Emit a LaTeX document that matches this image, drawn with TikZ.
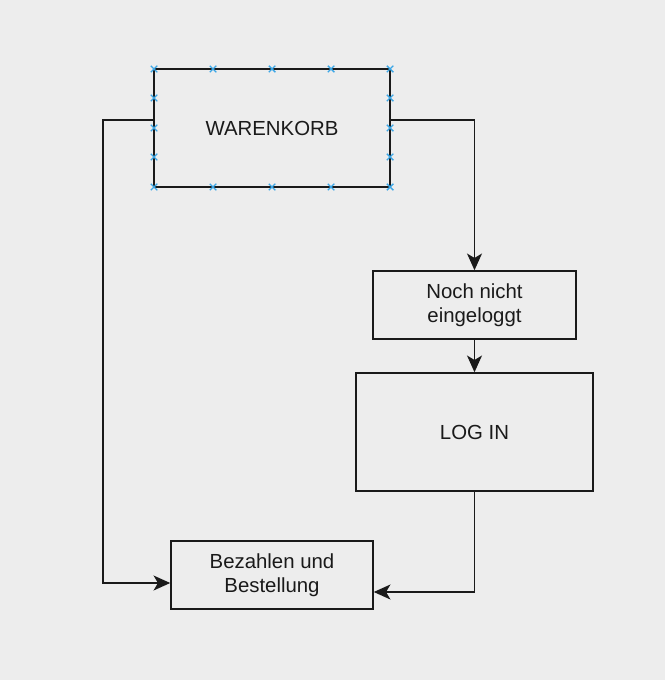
\documentclass[tikz,border=0pt]{standalone}
\usepackage{fontspec}
\setmainfont{Liberation Sans}
\usepackage{xcolor}
\usetikzlibrary{
    arrows.meta,
    positioning,
    calc
}
\definecolor{paper}{HTML}{EDEDED}
\definecolor{ink}{HTML}{1A1A1A}
\definecolor{handleblue}{HTML}{3AA6E6}

\begin{document}
\begin{tikzpicture}[
        box/.style={draw=ink, line width=0.85pt, fill=paper, align=center, text=ink,
                    font=\fontsize{11.6}{13.6}\selectfont, inner sep=0pt},
        arrow/.style={-{Stealth[length=9.5pt, width=8.5pt, inset=2.5pt]}, draw=ink, line width=0.85pt},
        handle/.style={draw=handleblue, line width=0.8pt}
    ]
        % Background
        \fill[paper] (0, 0) rectangle (13.3, -13.6);
        \useasboundingbox (0, 0) rectangle (13.3, -13.6);

        % Cart
        \node[box, minimum width=4.72cm, minimum height=2.36cm] (cart) at (5.44, -2.56) {WARENKORB};

        % Not logged in
        \node[box, minimum width=4.06cm, minimum height=1.36cm] (notlogged) at (9.49, -6.1) {Noch nicht\\eingeloggt};

        % Login
        \node[box, minimum width=4.74cm, minimum height=2.36cm] (login) at (9.49, -8.64) {LOG IN};

        % Payment
        \node[box, minimum width=4.04cm, minimum height=1.36cm] (pay) at (5.44, -11.5) {Bezahlen und\\Bestellung};

        % Arrows
        \coordinate (leftrail) at (2.06, -2.4);
        \draw[arrow] ([yshift=0.16cm]cart.east) -| (notlogged.north);
        \draw[arrow] (notlogged) -- (login);
        \draw[arrow] (login.south) |- ([yshift=-0.34cm]pay.east);
        \draw[arrow] ([yshift=0.16cm]cart.west) -- (leftrail) |- ([yshift=-0.16cm]pay.west);

        % Selection handles on the cart
        \foreach \x in {3.08, 4.26, 5.44, 6.62, 7.80} {
            \foreach \y in {-1.38, -3.74} {
                \draw[handle] (\x, \y) +(-0.065, -0.065) -- +(0.065, 0.065) +(-0.065, 0.065) -- +(0.065, -0.065);
            }
        }
        \foreach \x in {3.08, 7.80} {
            \foreach \y in {-1.96, -2.56, -3.14} {
                \draw[handle] (\x, \y) +(-0.065, -0.065) -- +(0.065, 0.065) +(-0.065, 0.065) -- +(0.065, -0.065);
            }
        }
    \end{tikzpicture}
\end{document}
